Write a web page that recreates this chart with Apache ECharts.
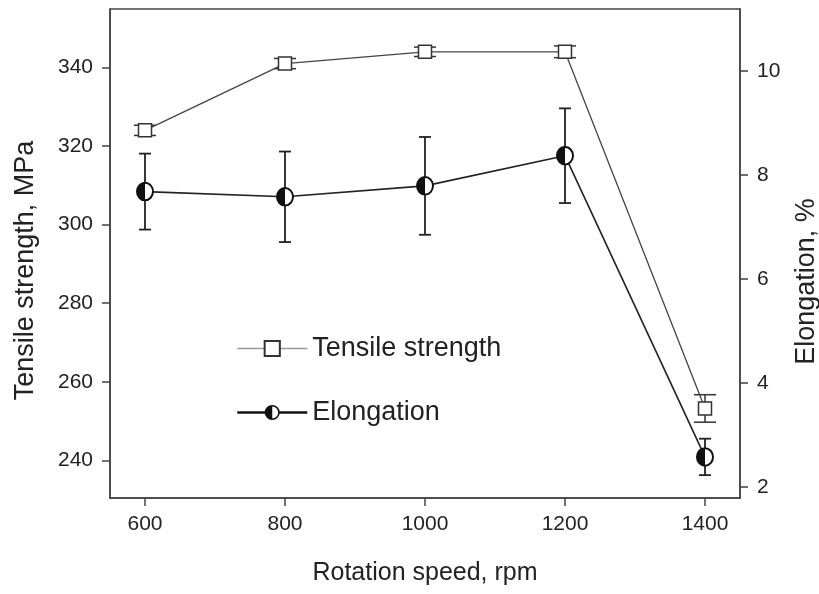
<!DOCTYPE html>
<html>
<head>
<meta charset="utf-8">
<script src="https://cdn.jsdelivr.net/npm/echarts@6/dist/echarts.min.js"></script>
<style>
  html, body { margin: 0; padding: 0; background: #fff; }
  #chart { width: 819px; height: 594px; }
</style>
</head>
<body>
<div id="chart"></div>
<script>
// values
var speeds = [600, 800, 1000, 1200, 1400];
var tensile = [324, 341, 344, 344, 253.2];
var tensileErr = [1.3, 1.3, 1.2, 1.5, 3.5];
var elongation = [7.68, 7.58, 7.79, 8.37, 2.58];
var elongationErr = [0.73, 0.87, 0.94, 0.91, 0.35];
var xTicks = [600, 800, 1000, 1200, 1400];
var leftTicks = [240, 260, 280, 300, 320, 340];
var rightTicks = [2, 4, 6, 8, 10];

var FONT = '"Liberation Sans", Arial, sans-serif';
var INK = '#222';

// half filled circle marker (left half black)
var halfSvg = '<svg xmlns="http://www.w3.org/2000/svg" width="36" height="40" viewBox="0 0 36 40">' +
  '<ellipse cx="18" cy="20" rx="16" ry="17.5" fill="#fff" stroke="#111" stroke-width="4"/>' +
  '<path d="M18 2.5 A16 17.5 0 0 0 18 37.5 Z" fill="#111"/></svg>';
var halfCircle = 'image://data:image/svg+xml;charset=utf-8,' + encodeURIComponent(halfSvg);

function pairs(xs, ys) {
  return xs.map(function (x, i) { return [x, ys[i]]; });
}
function errRows(xs, ys, es) {
  return xs.map(function (x, i) { return [x, ys[i] - es[i], ys[i] + es[i]]; });
}
function errorBar(capW, color, width) {
  return function (params, api) {
    var top = api.coord([api.value(0), api.value(2)]);
    var bot = api.coord([api.value(0), api.value(1)]);
    var h = capW / 2;
    var st = { stroke: color, lineWidth: width };
    return {
      type: 'group',
      children: [
        { type: 'line', shape: { x1: top[0], y1: top[1], x2: bot[0], y2: bot[1] }, style: st },
        { type: 'line', shape: { x1: top[0] - h, y1: top[1], x2: top[0] + h, y2: top[1] }, style: st },
        { type: 'line', shape: { x1: bot[0] - h, y1: bot[1], x2: bot[0] + h, y2: bot[1] }, style: st }
      ]
    };
  };
}

var axisLine = { show: true, lineStyle: { color: '#444', width: 1.5 } };
var axisTick = { show: true, length: 8, lineStyle: { color: '#444', width: 1.5 } };
var plain = function (v) { return String(v); };

var chart = echarts.init(document.getElementById('chart'));
var option = {
  backgroundColor: '#fff',
  animation: false,
  textStyle: { fontFamily: FONT, color: INK },
  grid: {
    left: 110, right: 79, top: 9, bottom: 96,
    outerBoundsMode: 'none',
    show: true, borderColor: '#444', borderWidth: 1.5
  },
  legend: {
    orient: 'vertical',
    left: 231, top: 330,
    itemWidth: 70, itemHeight: 19, itemGap: 37,
    textStyle: { fontFamily: FONT, fontSize: 27, color: INK },
    data: [
      { name: 'Tensile strength', lineStyle: { color: '#999', width: 1.5 } },
      { name: 'Elongation', lineStyle: { color: '#111', width: 2.5 } }
    ]
  },
  xAxis: {
    type: 'value', min: 550, max: 1450,
    name: 'Rotation speed, rpm', nameLocation: 'middle', nameGap: 63,
    nameTextStyle: { fontFamily: FONT, fontSize: 25, color: INK },
    axisLine: axisLine,
    axisTick: Object.assign({ customValues: xTicks }, axisTick),
    axisLabel: { customValues: xTicks, formatter: plain, margin: 16, fontSize: 21, color: INK, fontFamily: FONT },
    splitLine: { show: false }
  },
  yAxis: [{
    type: 'value', min: 230.4, max: 354.9, position: 'left',
    name: 'Tensile strength, MPa', nameLocation: 'middle', nameRotate: 90, nameGap: 71,
    nameTextStyle: { fontFamily: FONT, fontSize: 27, color: INK, padding: [0, 34, 0, 0] },
    axisLine: axisLine,
    axisTick: Object.assign({ customValues: leftTicks }, axisTick),
    axisLabel: { customValues: leftTicks, formatter: plain, margin: 17, fontSize: 21, color: INK, fontFamily: FONT },
    splitLine: { show: false }
  }, {
    type: 'value', min: 1.79, max: 11.19, position: 'right',
    name: 'Elongation, %', nameLocation: 'middle', nameRotate: 90, nameGap: 53,
    nameTextStyle: { fontFamily: FONT, fontSize: 27, color: INK, padding: [0, 56, 0, 0] },
    axisLine: axisLine,
    axisTick: Object.assign({ customValues: rightTicks }, axisTick),
    axisLabel: { customValues: rightTicks, formatter: plain, margin: 17, fontSize: 21, color: INK, fontFamily: FONT },
    splitLine: { show: false }
  }],
  series: [{
    name: 'tensile error',
    type: 'custom', yAxisIndex: 0, z: 2,
    renderItem: errorBar(22, '#333', 1.5),
    encode: { x: 0, y: [1, 2] },
    data: errRows(speeds, tensile, tensileErr)
  }, {
    name: 'elongation error',
    type: 'custom', yAxisIndex: 1, z: 2,
    renderItem: errorBar(12, '#222', 1.8),
    encode: { x: 0, y: [1, 2] },
    data: errRows(speeds, elongation, elongationErr)
  }, {
    name: 'Tensile strength',
    type: 'line', yAxisIndex: 0, z: 3,
    symbol: 'rect', symbolSize: [13, 13],
    itemStyle: { color: '#fff', borderColor: '#333', borderWidth: 1.5 },
    lineStyle: { color: '#444', width: 1.3 },
    data: pairs(speeds, tensile)
  }, {
    name: 'Elongation',
    type: 'line', yAxisIndex: 1, z: 3,
    symbol: halfCircle, symbolSize: [18, 20],
    itemStyle: { color: '#111' },
    lineStyle: { color: '#222', width: 1.6 },
    data: pairs(speeds, elongation)
  }]
};
chart.setOption(option);
</script>
</body>
</html>
